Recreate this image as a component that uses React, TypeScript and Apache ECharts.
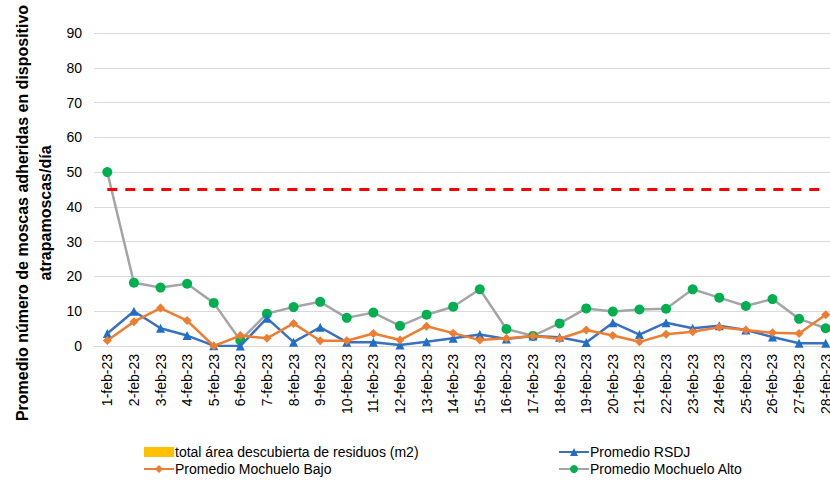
import React, { useEffect, useRef } from "react";
import * as echarts from "echarts";

const categories = [
  "1-feb-23", "2-feb-23", "3-feb-23", "4-feb-23", "5-feb-23", "6-feb-23", "7-feb-23",
  "8-feb-23", "9-feb-23", "10-feb-23", "11-feb-23", "12-feb-23", "13-feb-23", "14-feb-23",
  "15-feb-23", "16-feb-23", "17-feb-23", "18-feb-23", "19-feb-23", "20-feb-23", "21-feb-23",
  "22-feb-23", "23-feb-23", "24-feb-23", "25-feb-23", "26-feb-23", "27-feb-23", "28-feb-23",
];

const rsdj = [3.6, 10.0, 5.1, 3.0, 0.1, 0.0, 8.0, 1.1, 5.4, 1.1, 1.1, 0.3, 1.2, 2.2,
  3.3, 2.0, 2.9, 2.5, 1.0, 6.7, 3.3, 6.7, 5.1, 5.8, 4.6, 2.6, 0.8, 0.8];
const mochueloBajo = [1.6, 7.0, 10.9, 7.3, 0.0, 3.0, 2.2, 6.5, 1.5, 1.5, 3.6, 1.7, 5.7, 3.7,
  1.7, 2.2, 2.9, 2.1, 4.6, 3.0, 1.2, 3.4, 4.1, 5.4, 4.6, 3.8, 3.6, 9.0];
const mochueloAlto = [50.0, 18.2, 16.8, 17.9, 12.4, 1.6, 9.3, 11.2, 12.7, 8.1, 9.6, 5.8, 9.0, 11.3,
  16.3, 4.9, 2.9, 6.5, 10.8, 9.9, 10.5, 10.7, 16.3, 13.9, 11.5, 13.5, 7.8, 5.1];
const areaDescubierta: number[] = [];
const limite = 45;

const yTicks = { min: 0, max: 90, interval: 10 };
const yTitle = "Promedio número de moscas adheridas en dispositivo\natrapamoscas/día";

const FONT = "'Liberation Sans', Arial, sans-serif";

export default function App() {
  const ref = useRef<HTMLDivElement>(null);
  useEffect(() => {
    if (!ref.current) return;
    const chart = echarts.init(ref.current, null, { renderer: "svg" });
    chart.setOption({
      animation: false,
      textStyle: { fontFamily: FONT },
      grid: { left: 94, top: 33, bottom: 135, right: -9, containLabel: false, outerBoundsMode: "none" },
      graphic: [
        {
          type: "text",
          x: 34,
          y: 213,
          rotation: Math.PI / 2,
          style: {
            text: yTitle,
            font: `bold 16px ${FONT}`,
            fill: "#000",
            align: "center",
            verticalAlign: "middle",
            lineHeight: 23,
          },
        },
      ],
      legend: [
        {
          left: 138,
          top: 440,
          orient: "vertical",
          itemGap: 3,
          itemWidth: 30,
          itemHeight: 10,
          textStyle: { fontSize: 14, color: "#000", fontFamily: FONT, padding: [0, 0, 0, -4] },
          data: [
            { name: "total área descubierta de residuos (m2)", icon: "rect" },
            "Promedio Mochuelo Bajo",
          ],
        },
        {
          left: 553,
          top: 440,
          orient: "vertical",
          itemGap: 3,
          itemWidth: 30,
          itemHeight: 10,
          textStyle: { fontSize: 14, color: "#000", fontFamily: FONT, padding: [0, 0, 0, -4] },
          data: ["Promedio RSDJ", "Promedio Mochuelo Alto"],
        },
      ],
      xAxis: {
        type: "category",
        data: categories,
        boundaryGap: true,
        axisLine: { show: true, lineStyle: { color: "#d9d9d9" } },
        axisTick: { show: false },
        axisLabel: { rotate: 90, interval: 0, fontSize: 14, color: "#000", fontFamily: FONT, margin: 8 },
      },
      yAxis: {
        type: "value",
        min: yTicks.min,
        max: yTicks.max,
        interval: yTicks.interval,
        axisLine: { show: false },
        axisTick: { show: false },
        axisLabel: { fontSize: 14, color: "#000", fontFamily: FONT, margin: 12 },
        splitLine: { lineStyle: { color: "#d9d9d9", width: 1 } },
      },
      series: [
        {
          name: "total área descubierta de residuos (m2)",
          type: "bar",
          data: areaDescubierta,
          itemStyle: { color: "#FFC000" },
        },
        {
          name: "Promedio RSDJ",
          type: "line",
          data: rsdj,
          symbol: "triangle",
          symbolSize: 9,
          lineStyle: { color: "#3A70C0", width: 2.5 },
          itemStyle: { color: "#1F6FC5" },
          z: 3,
        },
        {
          name: "Promedio Mochuelo Bajo",
          type: "line",
          data: mochueloBajo,
          symbol: "diamond",
          symbolSize: 9,
          lineStyle: { color: "#ED7D31", width: 2.5 },
          itemStyle: { color: "#ED7D31" },
          z: 4,
          markLine: {
            silent: true,
            symbol: "none",
            label: { show: false },
            lineStyle: { color: "#FF0000", width: 3, type: [10, 8] },
            data: [[
              { coord: [categories[0], limite] },
              { coord: [categories[categories.length - 1], limite] },
            ]],
          },
        },
        {
          name: "Promedio Mochuelo Alto",
          type: "line",
          data: mochueloAlto,
          symbol: "circle",
          symbolSize: 10,
          lineStyle: { color: "#A5A5A5", width: 2.5 },
          itemStyle: { color: "#00B050" },
          z: 2,
        },
      ],
    });
    return () => chart.dispose();
  }, []);
  return <div ref={ref} style={{ width: 830, height: 481, position: "absolute", left: 0, top: 0 }} />;
}
